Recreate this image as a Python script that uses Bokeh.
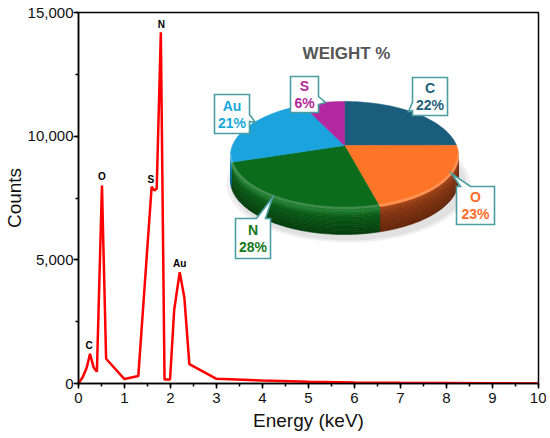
import math
from bokeh.plotting import figure
from bokeh.models import Range1d, FixedTicker, NumeralTickFormatter, ColumnDataSource
from bokeh.core.properties import value
from bokeh.embed import file_html
from bokeh.resources import INLINE

# ---------------- data ----------------
energy = [0.0, 0.09, 0.18, 0.25, 0.33, 0.40, 0.51, 0.60, 1.00, 1.30, 1.59, 1.65, 1.70,
          1.79, 1.87, 1.99, 2.08, 2.20, 2.30, 2.41, 3.00, 4.00, 5.00, 6.00, 7.00,
          8.00, 9.00, 10.0]
counts = [0, 250, 650, 1200, 650, 480, 8000, 1000, 180, 300, 7950, 7800, 7880,
          14200, 160, 160, 2970, 4500, 3490, 780, 190, 120, 70, 45, 30, 20, 10, 0]

peak_names = ["C", "O", "S", "N", "Au"]
peak_x = [0.23, 0.51, 1.57, 1.80, 2.20]
peak_y = [1520, 8350, 8250, 14500, 4870]

x_ticks = [0, 1, 2, 3, 4, 5, 6, 7, 8, 9, 10]
y_ticks = [0, 5000, 10000, 15000]

pie_names = ["C", "O", "N", "Au", "S"]
pie_weights = [22, 23, 28, 21, 6]
pie_labels = ["22%", "23%", "28%", "21%", "6%"]
slice_colors = ["#1b5d7d", "#ff7527", "#0b6c1b", "#1aa3dc", "#b2289f"]
side_hi = ["#2b6d8d", "#a5461a", "#2b8a3a", "#3ab3e0", "#c248af"]
side_mid = ["#134a66", "#86340f", "#095a16", "#1387b8", "#8f1f80"]
side_lo = ["#0c3448", "#622409", "#053d0c", "#0c6188", "#6a1560"]
text_colors = ["#1e6079", "#ff6b2b", "#147a20", "#18a8d8", "#b42898"]

# ---------------- figure ----------------
p = figure(width=546, height=436, output_backend="svg", toolbar_location=None,
           x_range=Range1d(0, 10), y_range=Range1d(0, 15000),
           min_border_left=78, min_border_right=8, min_border_top=12,
           min_border_bottom=53)
p.background_fill_color = "white"
p.border_fill_color = "white"
p.grid.visible = False
p.outline_line_color = "black"
p.outline_line_width = 1.5
p.outline_line_alpha = 1.0

p.xaxis.ticker = FixedTicker(ticks=x_ticks, minor_ticks=[i * 0.5 for i in range(21)])
p.yaxis.ticker = FixedTicker(ticks=y_ticks, minor_ticks=[i * 2500 for i in range(7)])
p.yaxis.formatter = NumeralTickFormatter(format="0,0")
p.xaxis.axis_label = "Energy (keV)"
p.yaxis.axis_label = "Counts"

for ax in (p.xaxis[0], p.yaxis[0]):
    ax.axis_line_width = 1.5
    ax.axis_line_color = "black"
    ax.major_tick_line_width = 1.5
    ax.minor_tick_line_width = 1.5
    ax.major_tick_in = 0
    ax.major_tick_out = 5
    ax.minor_tick_in = 0
    ax.minor_tick_out = 3
    ax.major_label_text_font = "Liberation Sans"
    ax.major_label_text_font_size = "15px"
    ax.major_label_text_color = "#111111"
    ax.axis_label_text_font = "Liberation Sans"
    ax.axis_label_text_font_size = "19px"
    ax.axis_label_text_font_style = "normal"
    ax.axis_label_text_color = "#111111"
p.xaxis.major_label_standoff = 4
p.xaxis.axis_label_standoff = 4
p.yaxis.major_label_standoff = 0
p.yaxis.axis_label_standoff = 0

# spectrum
p.line(energy, counts, line_color="#ff0000", line_width=2.5)
p.text(x=peak_x, y=peak_y, text=peak_names, text_font=value("Liberation Sans"),
       text_font_style="bold", text_font_size="10px", text_color="black",
       text_align="center", text_baseline="middle")

# ---------------- inset pie (page-pixel coordinates relative to (78, 14)) ----------------
p.extra_x_ranges = {"px": Range1d(0, 460)}
p.extra_y_ranges = {"py": Range1d(369, -2)}
R = dict(x_range_name="px", y_range_name="py")

CX, CY, RX, RY, VOFF, TH = 266.0, 141.0, 114.0, 54.0, -10.0, 25.0


def arc(t0, t1, dy=0.0, n=60):
    xs, ys = [], []
    for k in range(n + 1):
        t = math.radians(t0 + (t1 - t0) * k / n)
        xs.append(CX + RX * math.cos(t))
        ys.append(CY - RY * math.sin(t) + dy)
    return xs, ys


def mix(c1, c2, f):
    a = [int(c1[i:i + 2], 16) for i in (1, 3, 5)]
    b = [int(c2[i:i + 2], 16) for i in (1, 3, 5)]
    return "#%02x%02x%02x" % tuple(int(round(a[j] + (b[j] - a[j]) * f)) for j in range(3))


# shadow
sh_xs, sh_ys = [], []
for grow in (8, 4):
    xs, ys = [], []
    for k in range(121):
        t = 2 * math.pi * k / 120
        xs.append(CX + 4 + (RX + grow) * math.cos(t))
        ys.append(CY + TH + 4 - (RY + grow * 0.5) * math.sin(t))
    sh_xs.append(xs)
    sh_ys.append(ys)
p.patches(sh_xs, sh_ys, fill_color="#000000", fill_alpha=0.06, line_color=None, **R)

# slice angles
angles = []
start = 90.0
for w in pie_weights:
    end = start - 360.0 * w / 100.0
    angles.append((start, end))
    start = end

# sides (front half only), with vertical shading bands
side_xs, side_ys, side_cols = [], [], []
NB = 10
for i, (a0, a1) in enumerate(angles):
    hi = min(a0, 0.0)
    lo = max(a1, -180.0)
    if hi <= lo:
        continue
    for k in range(NB):
        d0 = TH * k / NB
        d1 = TH * (k + 1) / NB
        x0, y0 = arc(hi, lo, d0)
        x1, y1 = arc(lo, hi, d1)
        side_xs.append(x0 + x1)
        side_ys.append(y0 + y1)
        f = (k + 0.5) / NB
        if f < 0.3:
            col = mix(side_hi[i], side_mid[i], f / 0.3)
        else:
            col = mix(side_mid[i], side_lo[i], (f - 0.3) / 0.7)
        side_cols.append(col)
p.patches(side_xs, side_ys, fill_color=side_cols, line_color=side_cols, line_width=0.6, **R)

# top faces
top_xs, top_ys = [], []
for a0, a1 in angles:
    xs, ys = arc(a0, a1)
    top_xs.append([CX] + xs)
    top_ys.append([CY + VOFF] + ys)
p.patches(xs="xs", ys="ys", fill_color="color", line_color="color", line_width=0.6,
          source=ColumnDataSource(dict(xs=top_xs, ys=top_ys, color=slice_colors)), **R)

# rim highlight along front edge
rx_, ry_ = arc(-180, 0, -1.5)
p.line(rx_, ry_, line_color="white", line_alpha=0.22, line_width=2.5, **R)

# title
p.text(x=[268], y=[38.5], text=["WEIGHT %"], text_font=value("Liberation Sans"),
       text_font_style="bold", text_font_size="17px", text_color="#555555",
       text_align="center", text_baseline="middle", **R)

# callouts: box (l, r, t, b), tail side, tail base (b0, b1), tip
callouts = [
    ((334, 369, 63, 101), "left", (88, 96), (330, 97)),
    ((378, 416, 172, 210), "top", (382, 392), (373, 159)),
    ((157, 192, 204, 244), "top", (178, 187), (194, 183)),
    ((136, 171, 80, 119), "right", (100, 107), (177, 108)),
    ((212, 240, 62, 98), "right", (82, 90), (247, 88)),
]


def callout_poly(box, side, base, tip):
    l, r, t, b = box
    b0, b1 = base
    if side == "top":
        pts = [(l, t), (b0, t), tip, (b1, t), (r, t), (r, b), (l, b)]
    elif side == "right":
        pts = [(l, t), (r, t), (r, b0), tip, (r, b1), (r, b), (l, b)]
    else:
        pts = [(l, t), (r, t), (r, b), (l, b), (l, b1), tip, (l, b0)]
    return [q[0] for q in pts], [q[1] for q in pts]


cx_s, cy_s = [], []
nx, ny, px_, py_ = [], [], [], []
for box, side, base, tip in callouts:
    xs, ys = callout_poly(box, side, base, tip)
    cx_s.append(xs)
    cy_s.append(ys)
    l, r, t, b = box
    mx, my = (l + r) / 2.0, (t + b) / 2.0
    nx.append(mx)
    ny.append(my - 8.5)
    px_.append(mx)
    py_.append(my + 8.5)

p.patches(cx_s, cy_s, fill_color="white", line_color="#4a9ea1", line_width=1.6,
          line_join="miter", **R)
p.text(x=nx, y=ny, text=pie_names, text_color=text_colors,
       text_font=value("Liberation Sans"), text_font_style="bold",
       text_font_size="14px", text_align="center", text_baseline="middle", **R)
p.text(x=px_, y=py_, text=pie_labels, text_color=text_colors,
       text_font=value("Liberation Sans"), text_font_style="bold",
       text_font_size="14px", text_align="center", text_baseline="middle", **R)

open("out.html", "w").write(file_html(p, INLINE))
